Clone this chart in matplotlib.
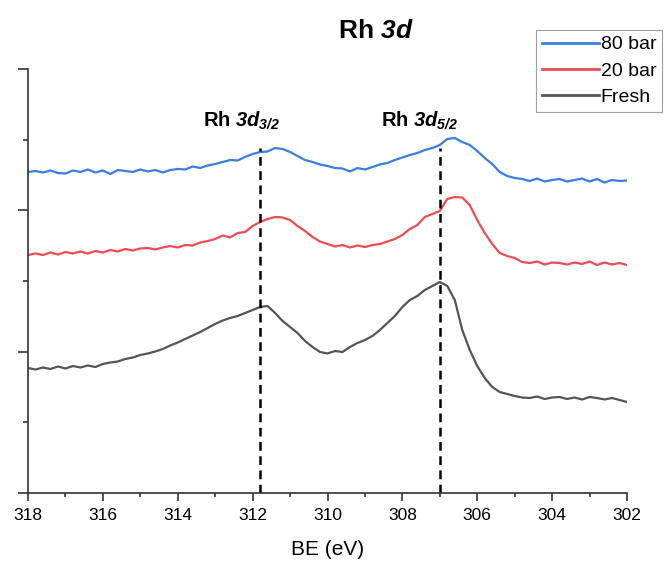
import matplotlib
matplotlib.use("Agg")
import matplotlib.pyplot as plt
from matplotlib.ticker import MultipleLocator, NullFormatter

plt.rcParams["font.family"] = ["Liberation Sans", "DejaVu Sans"]
plt.rcParams["mathtext.fontset"] = "custom"
plt.rcParams["mathtext.rm"] = "Liberation Sans:italic:bold"
plt.rcParams["mathtext.bf"] = "Liberation Sans:italic:bold"
plt.rcParams["mathtext.it"] = "Liberation Sans:italic:bold"

# Binding energy grid (eV), high to low
be = [318.0 - 0.2 * i for i in range(81)]

# Rh 3d intensities (a.u., stacked with vertical offsets)
int_80bar = [
    321, 322, 320.5, 322.5, 320, 319.5, 322.5, 321, 323.5, 320.5,
    322.5, 319, 323, 322, 321, 323.5, 321.5, 323, 320.5, 323,
    324, 323.5, 326.5, 325, 327.5, 329, 331, 333, 332.5, 336,
    339, 341, 341.5, 345, 344, 341, 337, 333, 331, 328.5,
    327, 325, 324.5, 321.5, 325, 323.5, 326, 328.5, 330, 333,
    335.5, 338, 340, 343, 345, 348, 354, 355, 351, 348,
    342, 335, 329, 321, 317, 315, 314, 312, 314.5, 311.5,
    313, 314, 311.5, 313, 314.5, 311.5, 314, 310.5, 313, 312,
    312.5,
]
int_20bar = [
    238, 239.5, 238, 240.5, 238.5, 241, 239.5, 241.5, 239.5, 242,
    240.5, 243, 241.5, 244, 242.5, 244.5, 245, 243.5, 245.5, 247,
    245.5, 248, 247.5, 250.5, 252, 254, 257.5, 255.5, 260, 261,
    267, 271, 274, 276, 275.5, 273, 267, 262, 256, 251.5,
    249, 246.5, 248, 245.5, 247.5, 246, 248, 249, 251.5, 254,
    258, 264, 268, 276, 279, 282, 294, 296, 295.5, 288,
    273, 260, 249, 240, 237, 235, 231, 230, 231.5, 228.5,
    230.5, 230, 228.5, 230.5, 229, 231.5, 228, 230.5, 228.5, 230,
    228,
]
int_fresh = [
    125, 123.5, 125.5, 124, 126.5, 124.5, 127, 125.5, 127.5, 126,
    129, 130.5, 131.5, 134, 135.5, 138, 139.5, 141.5, 144, 147.5,
    150.5, 154, 157.5, 161, 165, 169, 172.5, 175, 177, 180,
    183, 186, 187, 180, 172, 166, 160, 152, 146, 141,
    139.5, 142, 141, 146, 150, 153, 157, 163, 170, 177,
    186, 193, 197, 203, 207, 211, 207, 193, 163, 143,
    127, 115, 106, 101, 99, 97, 95.5, 95, 96.5, 94,
    95.5, 96, 94, 95.5, 93.5, 96, 95, 93.5, 95, 93,
    91,
]

series_labels = ["80 bar", "20 bar", "Fresh"]
series_colors = ["#3a7ee4", "#f04a52", "#555555"]

# Peak positions (eV) and their labels
peak_be = [311.8, 307.0]
peak_labels = [r"Rh $3d_{3/2}$", r"Rh $3d_{5/2}$"]
peak_label_x = [312.3, 307.55]
peak_line_top = 345
peak_label_y = 366

fig = plt.figure(figsize=(6.64, 5.61), dpi=100)
W, H = 664, 561
ax = fig.add_axes([28 / W, 1 - 493 / H, (627 - 28) / W, (493 - 69) / H])

for ys, lab, col in zip([int_80bar, int_20bar, int_fresh], series_labels, series_colors):
    ax.plot(be, ys, color=col, lw=1.6, label=lab)

ax.vlines(peak_be, 0, peak_line_top, colors="black", lw=1.8,
          linestyles=[(0, (3.5, 2.2))])
for x, t in zip(peak_label_x, peak_labels):
    ax.text(x, peak_label_y, t, ha="center", va="baseline", fontsize=14.5,
            fontweight="bold")

ax.set_xlim(318, 302)
ax.set_ylim(0, 424)
ax.xaxis.set_major_locator(MultipleLocator(2))
ax.xaxis.set_minor_locator(MultipleLocator(1))
ax.yaxis.set_major_locator(MultipleLocator(424 / 3))
ax.yaxis.set_minor_locator(MultipleLocator(424 / 6))
ax.yaxis.set_major_formatter(NullFormatter())
ax.xaxis.set_major_formatter(plt.FuncFormatter(lambda v, p: f"{v:.0f}"))

for s in ["top", "right"]:
    ax.spines[s].set_visible(False)
for s in ["left", "bottom"]:
    ax.spines[s].set_linewidth(1.2)
    ax.spines[s].set_color("#333333")

ax.tick_params(axis="x", which="major", length=6, width=1.2, color="#333333",
               labelsize=12.5, pad=5)
ax.tick_params(axis="x", which="minor", length=3, width=1.2, color="#333333")
ax.tick_params(axis="y", which="major", length=7, width=1.2, color="#333333")
ax.tick_params(axis="y", which="minor", length=3.5, width=1.2, color="#333333")

ax.set_xlabel("BE (eV)", fontsize=15, labelpad=12)

fig.text(376 / W, 1 - 31 / H, r"Rh $3d$", ha="center", va="center",
         fontsize=19, fontweight="bold")

leg = fig.legend(loc="upper right", bbox_to_anchor=(662 / W, 1 - 30 / H),
                 bbox_transform=fig.transFigure, fontsize=14, frameon=True,
                 fancybox=False, edgecolor="#888888", handlelength=2.9,
                 handletextpad=0.1, borderpad=0.3, labelspacing=0.45,
                 borderaxespad=0)
leg.get_frame().set_linewidth(0.8)
for h in leg.get_lines():
    h.set_linewidth(2.0)

fig.savefig("out.png", dpi=100)
